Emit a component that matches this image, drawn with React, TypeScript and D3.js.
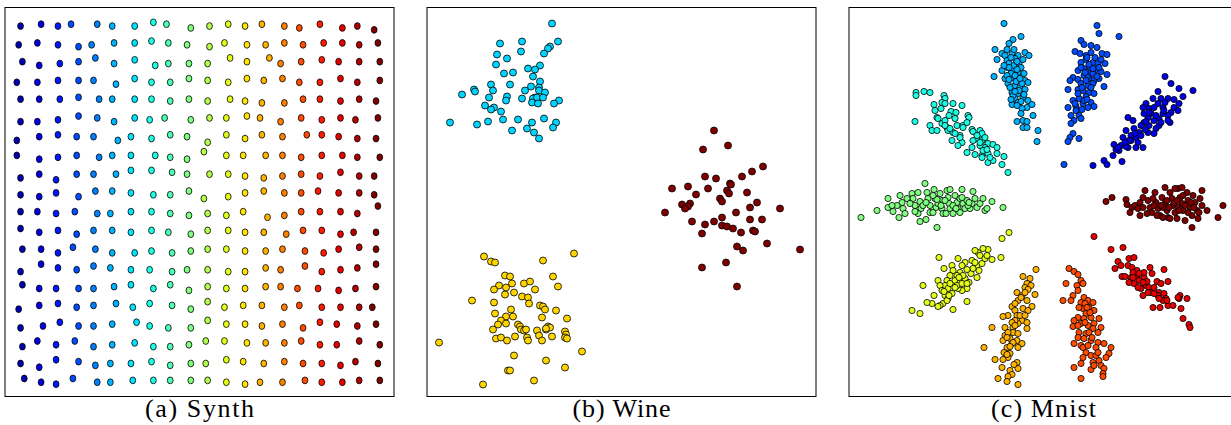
import React, { useEffect, useRef } from 'react';
import * as d3 from 'd3';

const W = 1231;
const H = 425;

const captions = ['(a) Synth', '(b) Wine', '(c) Mnist'];

// Synth: 20 x 20 jittered grid, rows top -> bottom, cols left -> right (units: 1/10 grid step)
const synthX = [
  [0, 11, 20, 27, 41, 49, 61, 71, 78, 91, 101, 111, 120, 129, 141, 149, 160, 172, 180, 189],
  [-1, 9, 20, 31, 38, 50, 61, 70, 79, 89, 101, 109, 121, 131, 141, 151, 162, 172, 181, 191],
  [1, 10, 21, 31, 40, 50, 61, 72, 79, 90, 100, 112, 121, 133, 139, 150, 161, 170, 181, 192],
  [-2, 9, 20, 31, 39, 51, 61, 70, 80, 90, 100, 111, 121, 130, 140, 149, 160, 171, 180, 192],
  [0, 10, 21, 31, 42, 49, 61, 70, 80, 90, 100, 112, 120, 129, 141, 151, 160, 171, 181, 190],
  [0, 9, 20, 31, 41, 50, 61, 69, 77, 91, 101, 110, 121, 128, 139, 150, 161, 171, 179, 191],
  [-2, 10, 20, 30, 39, 52, 59, 70, 80, 89, 100, 110, 120, 129, 140, 153, 161, 170, 180, 190],
  [-2, 10, 20, 30, 42, 49, 59, 72, 80, 89, 98, 110, 119, 131, 140, 150, 161, 172, 180, 192],
  [0, 10, 19, 30, 39, 51, 59, 70, 81, 89, 101, 111, 120, 130, 140, 150, 160, 171, 181, 189],
  [0, 10, 19, 31, 40, 49, 59, 71, 80, 90, 98, 111, 120, 130, 141, 150, 159, 170, 181, 189],
  [0, 9, 19, 29, 41, 48, 59, 70, 80, 90, 100, 110, 119, 132, 141, 150, 160, 171, 180, 191],
  [0, 10, 20, 30, 39, 49, 59, 70, 79, 91, 100, 111, 120, 130, 142, 151, 161, 171, 178, 190],
  [1, 11, 20, 28, 40, 49, 61, 70, 81, 91, 100, 110, 120, 131, 140, 152, 162, 170, 181, 190],
  [0, 11, 20, 30, 39, 48, 59, 69, 81, 89, 100, 111, 120, 131, 139, 152, 161, 171, 180, 190],
  [1, 10, 19, 31, 39, 50, 59, 71, 80, 90, 100, 110, 120, 131, 139, 148, 159, 170, 179, 190],
  [-1, 10, 20, 30, 39, 51, 60, 69, 81, 91, 100, 109, 119, 129, 141, 149, 161, 171, 181, 188],
  [0, 12, 21, 31, 39, 49, 62, 69, 79, 91, 100, 110, 120, 129, 140, 151, 160, 169, 180, 190],
  [1, 9, 19, 29, 39, 49, 61, 71, 80, 90, 99, 109, 121, 131, 141, 150, 160, 169, 181, 192],
  [0, 10, 19, 31, 40, 48, 59, 70, 80, 91, 99, 110, 119, 130, 141, 151, 161, 171, 179, 191],
  [2, 11, 19, 28, 41, 48, 60, 71, 80, 91, 100, 110, 120, 128, 140, 152, 161, 172, 181, 192],
];

const synthY = [
  [0, -1, 0, -1, -1, 0, 0, -2, -1, 1, 0, -1, 0, -1, 0, 1, -1, 1, 0, 2],
  [10, 9, 10, 11, 10, 9, 9, 8, 9, 10, 11, 9, 10, 10, 9, 10, 9, 9, 10, 9],
  [19, 21, 20, 19, 17, 20, 18, 21, 20, 20, 20, 17, 19, 17, 20, 19, 18, 19, 19, 19],
  [30, 30, 29, 29, 29, 31, 28, 30, 30, 28, 29, 30, 28, 29, 28, 30, 30, 28, 30, 29],
  [39, 39, 39, 38, 39, 39, 39, 39, 40, 39, 40, 39, 40, 41, 41, 39, 39, 40, 39, 40],
  [51, 51, 50, 48, 49, 51, 49, 50, 49, 50, 49, 49, 48, 49, 51, 49, 50, 49, 50, 49],
  [61, 59, 58, 59, 59, 61, 59, 60, 58, 59, 62, 58, 60, 58, 59, 58, 58, 59, 60, 60],
  [69, 71, 70, 69, 70, 69, 69, 69, 70, 71, 67, 69, 69, 69, 69, 70, 69, 69, 70, 70],
  [81, 79, 82, 79, 79, 79, 77, 77, 78, 79, 79, 79, 80, 81, 80, 79, 80, 78, 80, 80],
  [90, 91, 89, 91, 88, 88, 89, 90, 90, 88, 92, 91, 89, 88, 89, 89, 88, 89, 89, 90],
  [99, 99, 100, 99, 100, 100, 99, 99, 100, 101, 100, 101, 99, 102, 101, 99, 99, 99, 100, 96],
  [108, 110, 109, 111, 109, 109, 110, 109, 110, 111, 109, 109, 110, 110, 111, 109, 109, 111, 110, 110],
  [119, 119, 121, 118, 119, 121, 121, 120, 121, 120, 119, 119, 120, 120, 119, 120, 121, 119, 118, 119],
  [131, 127, 129, 130, 128, 129, 130, 130, 131, 130, 130, 131, 131, 129, 130, 128, 131, 130, 129, 127],
  [138, 140, 140, 140, 140, 139, 138, 140, 138, 141, 139, 140, 140, 139, 139, 140, 140, 141, 140, 139],
  [151, 149, 148, 150, 149, 148, 150, 148, 149, 151, 147, 150, 149, 149, 150, 149, 150, 150, 150, 150],
  [161, 160, 158, 160, 160, 159, 158, 160, 161, 161, 157, 159, 159, 160, 159, 161, 158, 159, 160, 159],
  [171, 168, 170, 168, 171, 170, 169, 171, 171, 170, 168, 168, 169, 169, 169, 168, 170, 170, 168, 170],
  [180, 182, 178, 179, 181, 180, 180, 179, 181, 180, 180, 178, 179, 180, 179, 180, 180, 181, 179, 180],
  [188, 190, 191, 188, 190, 190, 189, 189, 189, 189, 189, 190, 191, 190, 190, 189, 190, 190, 189, 189],
];

// Wine embedding (y grows downward), three classes
const wineClass1 = [
  [125, 16], [95, 34], [131, 34], [73, 36], [94, 44], [123, 39], [121, 41], [117, 46], [70, 47], [80, 51],
  [69, 57], [113, 58], [101, 61], [108, 62], [77, 66], [86, 65], [106, 69], [113, 74], [64, 77], [83, 77],
  [104, 79], [112, 80], [98, 83], [66, 83], [47, 82], [48, 84], [35, 87], [112, 83], [118, 85], [62, 90],
  [80, 89], [79, 93], [95, 91], [108, 90], [106, 91], [110, 90], [116, 90], [105, 95], [111, 96], [132, 93],
  [127, 96], [58, 98], [67, 100], [64, 102], [74, 104], [23, 115], [50, 117], [61, 114], [76, 112], [91, 112],
  [105, 115], [117, 111], [129, 115], [126, 120], [100, 121], [85, 123], [107, 125], [112, 131],
];

const wineClass2 = [
  [57, 249], [64, 254], [68, 255], [116, 253], [147, 246], [78, 268], [83, 269], [126, 269], [72, 278], [85, 276],
  [79, 280], [67, 282], [97, 276], [103, 274], [131, 279], [78, 287], [87, 285], [108, 282], [95, 289], [101, 290],
  [102, 296], [45, 293], [67, 295], [113, 298], [116, 299], [118, 302], [84, 302], [129, 303], [68, 306], [79, 309],
  [86, 309], [115, 310], [140, 311], [74, 313], [71, 317], [79, 316], [91, 317], [93, 319], [94, 322], [97, 323],
  [99, 322], [110, 323], [112, 328], [119, 322], [121, 319], [123, 320], [119, 321], [138, 324], [139, 327], [138, 330],
  [140, 331], [66, 322], [69, 331], [74, 330], [80, 333], [88, 329], [100, 330], [101, 333], [115, 333], [125, 329],
  [12, 335], [155, 344], [87, 348], [119, 353], [138, 360], [81, 363], [83, 363], [56, 377], [107, 373],
];

const wineClass3 = [
  [287, 123], [301, 138], [276, 142], [336, 159], [325, 164], [315, 169], [278, 169], [289, 171], [303, 176], [304, 177],
  [245, 181], [261, 179], [281, 181], [300, 183], [302, 186], [320, 185], [269, 187], [293, 191], [295, 194], [330, 195],
  [255, 197], [263, 196], [261, 199], [258, 201], [323, 200], [353, 201], [238, 205], [309, 205], [265, 214], [287, 214],
  [295, 210], [323, 212], [335, 212], [278, 217], [295, 218], [300, 219], [306, 221], [275, 226], [314, 225], [326, 223],
  [328, 224], [340, 236], [310, 239], [316, 243], [373, 242], [275, 260], [299, 255], [310, 279],
];

// Mnist embedding (y grows downward), ten classes
const mnistC0 = [
  [316, 69], [322, 76], [330, 81], [344, 83], [334, 89], [309, 84], [304, 91], [312, 91], [319, 91], [297, 96],
  [300, 101], [305, 100], [309, 96], [314, 100], [330, 96], [325, 100], [322, 105], [319, 108], [314, 106], [310, 111],
  [305, 113], [299, 110], [295, 106], [300, 118], [307, 121], [305, 126], [321, 115], [279, 110], [284, 113], [277, 123],
  [285, 121], [290, 125], [282, 128], [287, 130], [292, 128], [274, 130], [272, 138], [265, 137], [279, 140], [270, 143],
  [277, 139], [287, 140], [294, 140], [264, 148], [267, 142], [255, 153], [258, 157], [273, 154], [244, 158], [295, 115],
  [302, 106], [294, 100], [315, 103], [282, 133], [289, 135], [299, 125], [310, 118], [329, 103], [319, 113], [300, 105],
  [307, 108], [297, 114], [312, 115], [292, 118], [296, 122], [286, 126], [280, 133], [276, 135], [269, 140], [316, 95],
  [325, 92],
];

const mnistC1 = [
  [248, 18], [250, 26], [270, 29], [232, 33], [235, 37], [242, 38], [248, 40], [226, 44], [231, 46], [237, 48],
  [242, 45], [253, 46], [258, 47], [232, 55], [237, 52], [244, 55], [249, 56], [256, 56], [235, 61], [241, 60],
  [247, 62], [252, 64], [258, 67], [224, 70], [229, 72], [235, 68], [240, 71], [245, 73], [250, 71], [221, 73],
  [232, 76], [239, 78], [244, 76], [255, 79], [219, 82], [229, 82], [234, 83], [240, 85], [245, 86], [237, 89],
  [230, 91], [224, 93], [234, 96], [242, 95], [245, 99], [219, 100], [227, 99], [222, 108], [230, 108], [232, 111],
  [225, 113], [222, 116], [224, 126], [221, 130], [219, 134], [230, 131], [215, 157], [227, 103], [235, 93], [239, 68],
  [242, 65], [229, 63], [232, 60], [237, 73], [229, 86], [239, 100], [238, 50], [246, 50], [240, 57], [252, 52],
  [236, 65], [244, 66], [248, 69], [233, 80], [242, 80], [238, 92], [226, 96], [233, 102], [244, 61], [250, 60],
];

const mnistC2 = [
  [155, 16], [172, 29], [164, 32], [160, 36], [146, 42], [148, 52], [153, 46], [156, 48], [163, 46], [169, 48],
  [176, 45], [180, 48], [158, 53], [166, 51], [153, 63], [159, 60], [164, 63], [169, 65], [175, 66], [145, 69],
  [156, 71], [163, 70], [168, 70], [176, 73], [179, 75], [159, 76], [166, 78], [171, 80], [176, 82], [163, 85],
  [169, 86], [166, 91], [174, 90], [179, 93], [163, 97], [169, 95], [178, 100], [183, 97], [173, 101], [184, 108],
  [168, 114], [174, 113], [178, 114], [174, 120], [178, 120], [189, 123], [188, 134], [160, 56], [165, 58], [170, 56],
  [162, 66], [172, 60], [158, 68], [167, 74], [173, 76], [161, 80], [170, 83], [164, 88], [172, 94], [160, 60],
  [168, 62], [155, 58], [165, 42], [158, 42], [162, 50], [168, 54], [174, 52], [166, 68], [171, 71], [160, 72],
  [166, 84], [175, 87], [168, 98], [172, 106], [162, 92],
];

const mnistC3 = [
  [67, 85], [67, 88], [75, 84], [81, 85], [95, 88], [96, 91], [93, 95], [85, 97], [96, 96], [104, 96],
  [113, 98], [102, 104], [107, 105], [119, 108], [120, 110], [86, 103], [88, 110], [66, 114], [81, 118], [89, 111],
  [93, 116], [96, 113], [98, 120], [99, 123], [106, 111], [108, 118], [104, 125], [114, 118], [114, 120], [83, 123],
  [88, 123], [103, 133], [111, 128], [113, 135], [109, 138], [123, 122], [124, 124], [131, 123], [133, 126], [128, 131],
  [124, 133], [133, 133], [136, 130], [139, 136], [136, 140], [144, 137], [148, 140], [123, 140], [118, 145], [126, 147],
  [133, 148], [139, 146], [148, 146], [155, 149], [133, 150], [139, 155], [144, 153], [153, 157], [159, 165], [96, 118],
  [101, 121], [111, 130], [106, 126], [131, 138], [134, 143], [100, 108], [92, 101], [118, 115], [128, 128], [131, 135],
  [138, 142], [141, 150],
];

const mnistC4 = [
  [12, 210], [28, 203], [39, 191], [39, 200], [44, 204], [50, 210], [51, 188], [53, 195], [54, 201], [56, 206],
  [63, 186], [64, 191], [66, 198], [69, 185], [71, 194], [72, 201], [69, 206], [71, 214], [77, 212], [76, 176],
  [78, 185], [79, 191], [81, 198], [81, 205], [85, 182], [86, 191], [87, 200], [84, 205], [88, 220], [91, 186],
  [93, 193], [93, 201], [94, 206], [98, 183], [99, 190], [100, 196], [101, 201], [101, 182], [104, 206], [106, 188],
  [108, 195], [109, 201], [111, 191], [113, 182], [114, 196], [116, 201], [118, 193], [121, 201], [123, 196], [124, 184],
  [126, 191], [128, 200], [131, 196], [134, 191], [136, 203], [138, 201], [143, 194], [154, 200], [58, 191], [61, 196],
  [74, 198], [89, 196], [96, 193], [104, 198], [111, 205], [119, 198], [48, 198], [43, 198], [88, 192], [92, 198],
  [97, 206], [107, 201], [113, 190], [120, 195], [66, 204], [77, 195], [84, 188],
];

const mnistC5 = [
  [160, 225], [153, 231], [152, 250], [143, 252], [139, 242], [134, 241], [129, 245], [126, 243], [131, 248], [123, 253],
  [128, 258], [133, 256], [130, 263], [136, 251], [116, 255], [113, 258], [109, 251], [111, 265], [108, 268], [103, 258],
  [104, 263], [101, 268], [106, 273], [111, 275], [116, 271], [120, 275], [118, 281], [113, 283], [109, 281], [122, 266],
  [128, 270], [98, 273], [96, 278], [99, 281], [90, 250], [95, 261], [89, 273], [91, 278], [93, 283], [96, 288],
  [99, 291], [94, 296], [91, 298], [89, 299], [85, 288], [83, 296], [78, 295], [74, 278], [63, 303], [71, 306],
  [104, 302], [118, 294], [103, 286], [98, 293], [108, 278], [114, 268], [124, 261], [138, 248], [113, 276], [101, 276],
  [118, 276], [118, 262], [106, 280], [100, 288], [95, 284], [110, 270], [126, 255],
];

const mnistC6 = [
  [187, 262], [174, 269], [181, 271], [178, 276], [182, 278], [176, 280], [168, 285], [179, 282], [186, 287], [173, 288],
  [169, 293], [178, 293], [183, 299], [163, 299], [166, 303], [174, 301], [179, 303], [159, 308], [154, 309], [168, 308],
  [173, 313], [178, 315], [169, 316], [164, 320], [178, 321], [156, 320], [143, 320], [164, 325], [169, 326], [156, 328],
  [161, 331], [154, 333], [168, 333], [173, 336], [169, 340], [163, 336], [158, 340], [135, 340], [155, 345], [161, 346],
  [159, 350], [154, 352], [146, 352], [168, 355], [153, 360], [169, 361], [161, 363], [163, 367], [159, 369], [149, 371],
  [158, 374], [169, 377], [166, 296], [171, 308], [176, 308], [166, 313], [163, 315], [159, 325], [164, 335], [158, 347],
  [172, 290], [166, 318], [161, 339], [165, 357], [176, 285], [158, 330],
];

const mnistC7 = [
  [220, 261], [225, 264], [229, 267], [232, 273], [234, 276], [217, 276], [228, 278], [229, 283], [224, 288], [222, 293],
  [214, 293], [235, 290], [232, 295], [239, 293], [244, 295], [240, 300], [234, 301], [230, 300], [245, 303], [237, 306],
  [229, 310], [225, 313], [235, 311], [242, 310], [250, 311], [232, 316], [224, 319], [239, 318], [245, 316], [252, 320],
  [244, 321], [230, 325], [237, 326], [249, 325], [229, 330], [235, 331], [242, 333], [249, 335], [225, 336], [232, 338],
  [247, 340], [255, 336], [262, 340], [260, 346], [237, 345], [234, 350], [242, 348], [250, 353], [257, 350], [232, 356],
  [244, 355], [252, 358], [255, 361], [225, 360], [242, 362], [254, 366], [232, 371], [254, 369], [229, 318], [240, 325],
  [234, 340], [247, 348], [236, 296], [241, 305], [236, 315], [243, 330], [239, 338], [249, 345], [245, 358], [238, 300],
];

const mnistC8 = [
  [245, 229], [262, 242], [274, 240], [269, 254], [266, 261], [272, 258], [280, 251], [285, 250], [279, 258], [283, 260],
  [288, 263], [273, 269], [276, 269], [282, 270], [288, 268], [290, 273], [295, 270], [301, 260], [303, 266], [297, 278],
  [292, 281], [285, 276], [289, 280], [294, 288], [300, 280], [302, 285], [308, 274], [312, 276], [315, 262], [319, 274],
  [310, 285], [315, 286], [317, 291], [314, 293], [309, 288], [304, 300], [311, 300], [319, 298], [324, 298], [331, 288],
  [330, 291], [338, 291], [332, 301], [334, 311], [340, 317], [341, 320], [299, 285], [305, 280], [295, 265], [284, 265],
  [280, 275], [310, 291], [329, 290], [290, 266], [298, 274], [305, 286], [318, 293], [294, 275], [284, 270],
];

const mnistC9 = [
  [257, 194], [263, 190], [277, 192], [278, 197], [283, 200], [281, 205], [286, 198], [289, 201], [291, 195], [294, 190],
  [296, 183], [299, 193], [301, 200], [303, 205], [306, 185], [307, 195], [309, 201], [311, 208], [313, 190], [316, 180],
  [316, 196], [318, 203], [319, 210], [321, 185], [323, 191], [324, 198], [326, 205], [328, 211], [329, 181], [331, 190],
  [333, 196], [334, 203], [336, 213], [338, 185], [339, 193], [341, 200], [343, 208], [344, 188], [346, 195], [348, 203],
  [349, 211], [351, 191], [353, 198], [353, 183], [358, 203], [369, 210], [374, 198], [343, 220], [321, 211], [294, 200],
  [298, 206], [304, 191], [314, 200], [329, 200], [334, 188], [339, 205], [314, 210], [291, 208], [350, 205], [326, 181],
  [333, 180], [308, 208], [318, 193], [325, 195], [330, 203], [336, 198], [342, 195], [312, 198], [320, 200], [345, 200],
  [305, 198], [328, 193],
];

const mnistClasses = [mnistC0, mnistC1, mnistC2, mnistC3, mnistC4, mnistC5, mnistC6, mnistC7, mnistC8, mnistC9];
const wineClasses = [wineClass1, wineClass2, wineClass3];

// MATLAB-style "jet" colormap
const jet = d3
  .scaleLinear<string>()
  .domain([0, 0.125, 0.375, 0.625, 0.875, 1])
  .range(['#000080', '#0000ff', '#00ffff', '#ffff00', '#ff0000', '#800000'])
  .clamp(true);

export default function App() {
  const ref = useRef<SVGSVGElement>(null);

  useEffect(() => {
    const svg = d3.select(ref.current);
    svg.selectAll('*').remove();

    const size = 389;
    const top = 7.5;
    const lefts = [5, 427, 849];

    const frame = (i: number) =>
      svg
        .append('rect')
        .attr('x', lefts[i])
        .attr('y', top)
        .attr('width', size)
        .attr('height', size)
        .attr('fill', 'none')
        .attr('stroke', '#000')
        .attr('stroke-width', 1);

    // (a) Synth
    const sx = d3.scaleLinear().domain([-8.3, 199.6]).range([lefts[0], lefts[0] + size]);
    const sy = d3.scaleLinear().domain([-9.9, 197.6]).range([top, top + size]);
    const synth = synthX.flatMap((row, r) => row.map((x, c) => ({ x, y: synthY[r][c], label: c + 1 })));
    svg
      .append('g')
      .selectAll('ellipse')
      .data(synth)
      .join('ellipse')
      .attr('cx', d => sx(d.x))
      .attr('cy', d => sy(d.y))
      .attr('rx', 2.9)
      .attr('ry', 3.4)
      .attr('fill', d => jet(d.label / 20))
      .attr('stroke', '#000')
      .attr('stroke-width', 0.8);
    frame(0);

    // (b) Wine
    const wx = d3.scaleLinear().domain([0, size]).range([lefts[1], lefts[1] + size]);
    const wy = d3.scaleLinear().domain([0, size]).range([top, top + size]);
    wineClasses.forEach((pts, k) => {
      svg
        .append('g')
        .selectAll('circle')
        .data(pts)
        .join('circle')
        .attr('cx', d => wx(d[0]))
        .attr('cy', d => wy(d[1]))
        .attr('r', 3.5)
        .attr('fill', jet((k + 1) / 3))
        .attr('stroke', '#000')
        .attr('stroke-width', 0.8);
    });
    frame(1);

    // (c) Mnist
    const mx = d3.scaleLinear().domain([0, size]).range([lefts[2], lefts[2] + size]);
    const my = d3.scaleLinear().domain([0, size]).range([top, top + size]);
    mnistClasses.forEach((pts, k) => {
      svg
        .append('g')
        .selectAll('circle')
        .data(pts)
        .join('circle')
        .attr('cx', d => mx(d[0]))
        .attr('cy', d => my(d[1]))
        .attr('r', 3.1)
        .attr('fill', jet((k + 1) / 10))
        .attr('stroke', '#000')
        .attr('stroke-width', 0.8);
    });
    frame(2);

    const widths = [109, 98, 105];
    captions.forEach((c, i) => {
      svg
        .append('text')
        .attr('x', lefts[i] + size / 2)
        .attr('y', 417)
        .attr('text-anchor', 'middle')
        .attr('font-family', '"Liberation Serif", serif')
        .attr('font-size', 26)
        .attr('textLength', widths[i])
        .attr('lengthAdjust', 'spacing')
        .attr('fill', '#000')
        .text(c);
    });
  }, []);

  return (
    <svg
      ref={ref}
      width={W}
      height={H}
      style={{ position: 'absolute', left: 0, top: 0, background: '#fff' }}
    />
  );
}
